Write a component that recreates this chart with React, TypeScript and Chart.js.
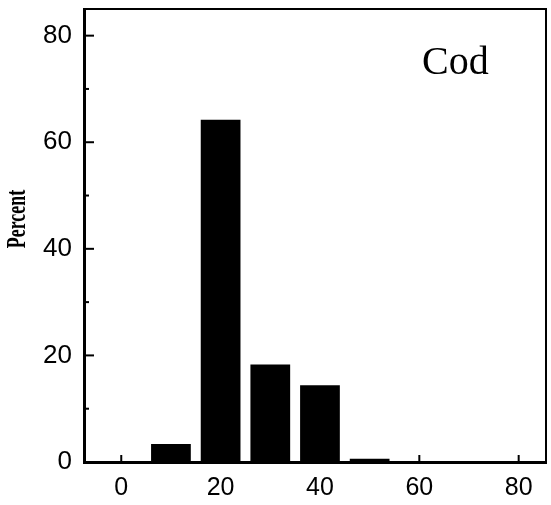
import React, { useEffect, useRef } from "react";
import { Chart, registerables } from "chart.js";

Chart.register(...registerables);

// ---- data ----
const binCenters = [10, 20, 30, 40, 50];
const percentValues = [3.4, 64.2, 18.3, 14.4, 0.6];
const xTickValues = [0, 20, 40, 60, 80];
const yTickValues = [0, 20, 40, 60, 80];
const yMinorTickValues = [10, 30, 50, 70];
const xRange = [-7.5, 85.5];
const yRange = [0, 85];
const panelLabel = "Cod";
const yAxisLabel = "Percent";

const inwardTicks = {
  id: "inwardTicks",
  afterDraw(chart: any) {
    const { ctx, chartArea, scales } = chart;
    const xs = scales.x;
    const ys = scales.y;
    ctx.save();
    ctx.strokeStyle = "#000";
    // frame top & right
    ctx.lineWidth = 2;
    ctx.beginPath();
    ctx.moveTo(chartArea.left, chartArea.top);
    ctx.lineTo(chartArea.right, chartArea.top);
    ctx.lineTo(chartArea.right, chartArea.bottom);
    ctx.stroke();
    // y ticks
    ctx.lineWidth = 2;
    for (const v of yTickValues) {
      const y = ys.getPixelForValue(v);
      ctx.beginPath();
      ctx.moveTo(chartArea.left, y);
      ctx.lineTo(chartArea.left + 10, y);
      ctx.stroke();
    }
    for (const v of yMinorTickValues) {
      const y = ys.getPixelForValue(v);
      ctx.beginPath();
      ctx.moveTo(chartArea.left, y);
      ctx.lineTo(chartArea.left + 5, y);
      ctx.stroke();
    }
    // x ticks
    for (const v of xTickValues) {
      const x = xs.getPixelForValue(v);
      ctx.beginPath();
      ctx.moveTo(x, chartArea.bottom);
      ctx.lineTo(x, chartArea.bottom - 7);
      ctx.stroke();
    }
    // panel label
    ctx.fillStyle = "#000";
    ctx.font = "40px 'Liberation Serif', 'Times New Roman', serif";
    ctx.textAlign = "left";
    ctx.textBaseline = "alphabetic";
    ctx.fillText(panelLabel, chartArea.left + 338, chartArea.top + 65);
    // y axis title (condensed bold serif)
    ctx.translate(18, 219);
    ctx.rotate(-Math.PI / 2);
    ctx.scale(0.64, 1);
    ctx.font = "bold 28px 'Liberation Serif', 'Times New Roman', serif";
    ctx.textAlign = "center";
    ctx.textBaseline = "middle";
    ctx.fillText(yAxisLabel, 0, 0);
    ctx.restore();
  },
};

export default function App() {
  const canvasRef = useRef<HTMLCanvasElement | null>(null);

  useEffect(() => {
    if (!canvasRef.current) return;
    const chart = new Chart(canvasRef.current, {
      type: "bar",
      data: {
        datasets: [
          {
            data: binCenters.map((x, i) => ({ x, y: percentValues[i] })),
            backgroundColor: "#000",
            borderWidth: 0,
            barPercentage: 0.8,
            categoryPercentage: 1.0,
          },
        ],
      },
      options: {
        animation: false,
        responsive: true,
        maintainAspectRatio: false,
        layout: { padding: { top: 9, right: 5, left: 0, bottom: 0 } },
        plugins: { legend: { display: false }, tooltip: { enabled: false } },
        scales: {
          x: {
            type: "linear",
            min: xRange[0],
            max: xRange[1],
            offset: false,
            afterBuildTicks: (s: any) => {
              s.ticks = xTickValues.map((v) => ({ value: v }));
            },
            afterFit: (s: any) => {
              s.height = 43;
              s.paddingLeft = 0;
              s.paddingRight = 0;
            },
            grid: { display: false, drawTicks: false },
            border: { display: true, color: "#000", width: 3 },
            ticks: {
              color: "#000",
              padding: 11,
              maxRotation: 0,
              autoSkip: false,
              font: { family: "'Liberation Sans', Arial, sans-serif", size: 25 },
            },
          },
          y: {
            min: yRange[0],
            max: yRange[1],
            afterBuildTicks: (s: any) => {
              s.ticks = yTickValues.map((v) => ({ value: v }));
            },
            afterFit: (s: any) => {
              s.width = 84;
              s.paddingTop = 0;
              s.paddingBottom = 0;
            },
            grid: { display: false, drawTicks: false },
            border: { display: true, color: "#000", width: 3 },
            ticks: {
              color: "#000",
              padding: 12,
              autoSkip: false,
              font: { family: "'Liberation Sans', Arial, sans-serif", size: 26 },
            },
          },
        },
      },
      plugins: [inwardTicks],
    } as any);
    return () => chart.destroy();
  }, []);

  return (
    <div style={{ position: "fixed", left: 0, top: 0, width: 551, height: 505, background: "#fff" }}>
      <canvas ref={canvasRef} />
    </div>
  );
}
